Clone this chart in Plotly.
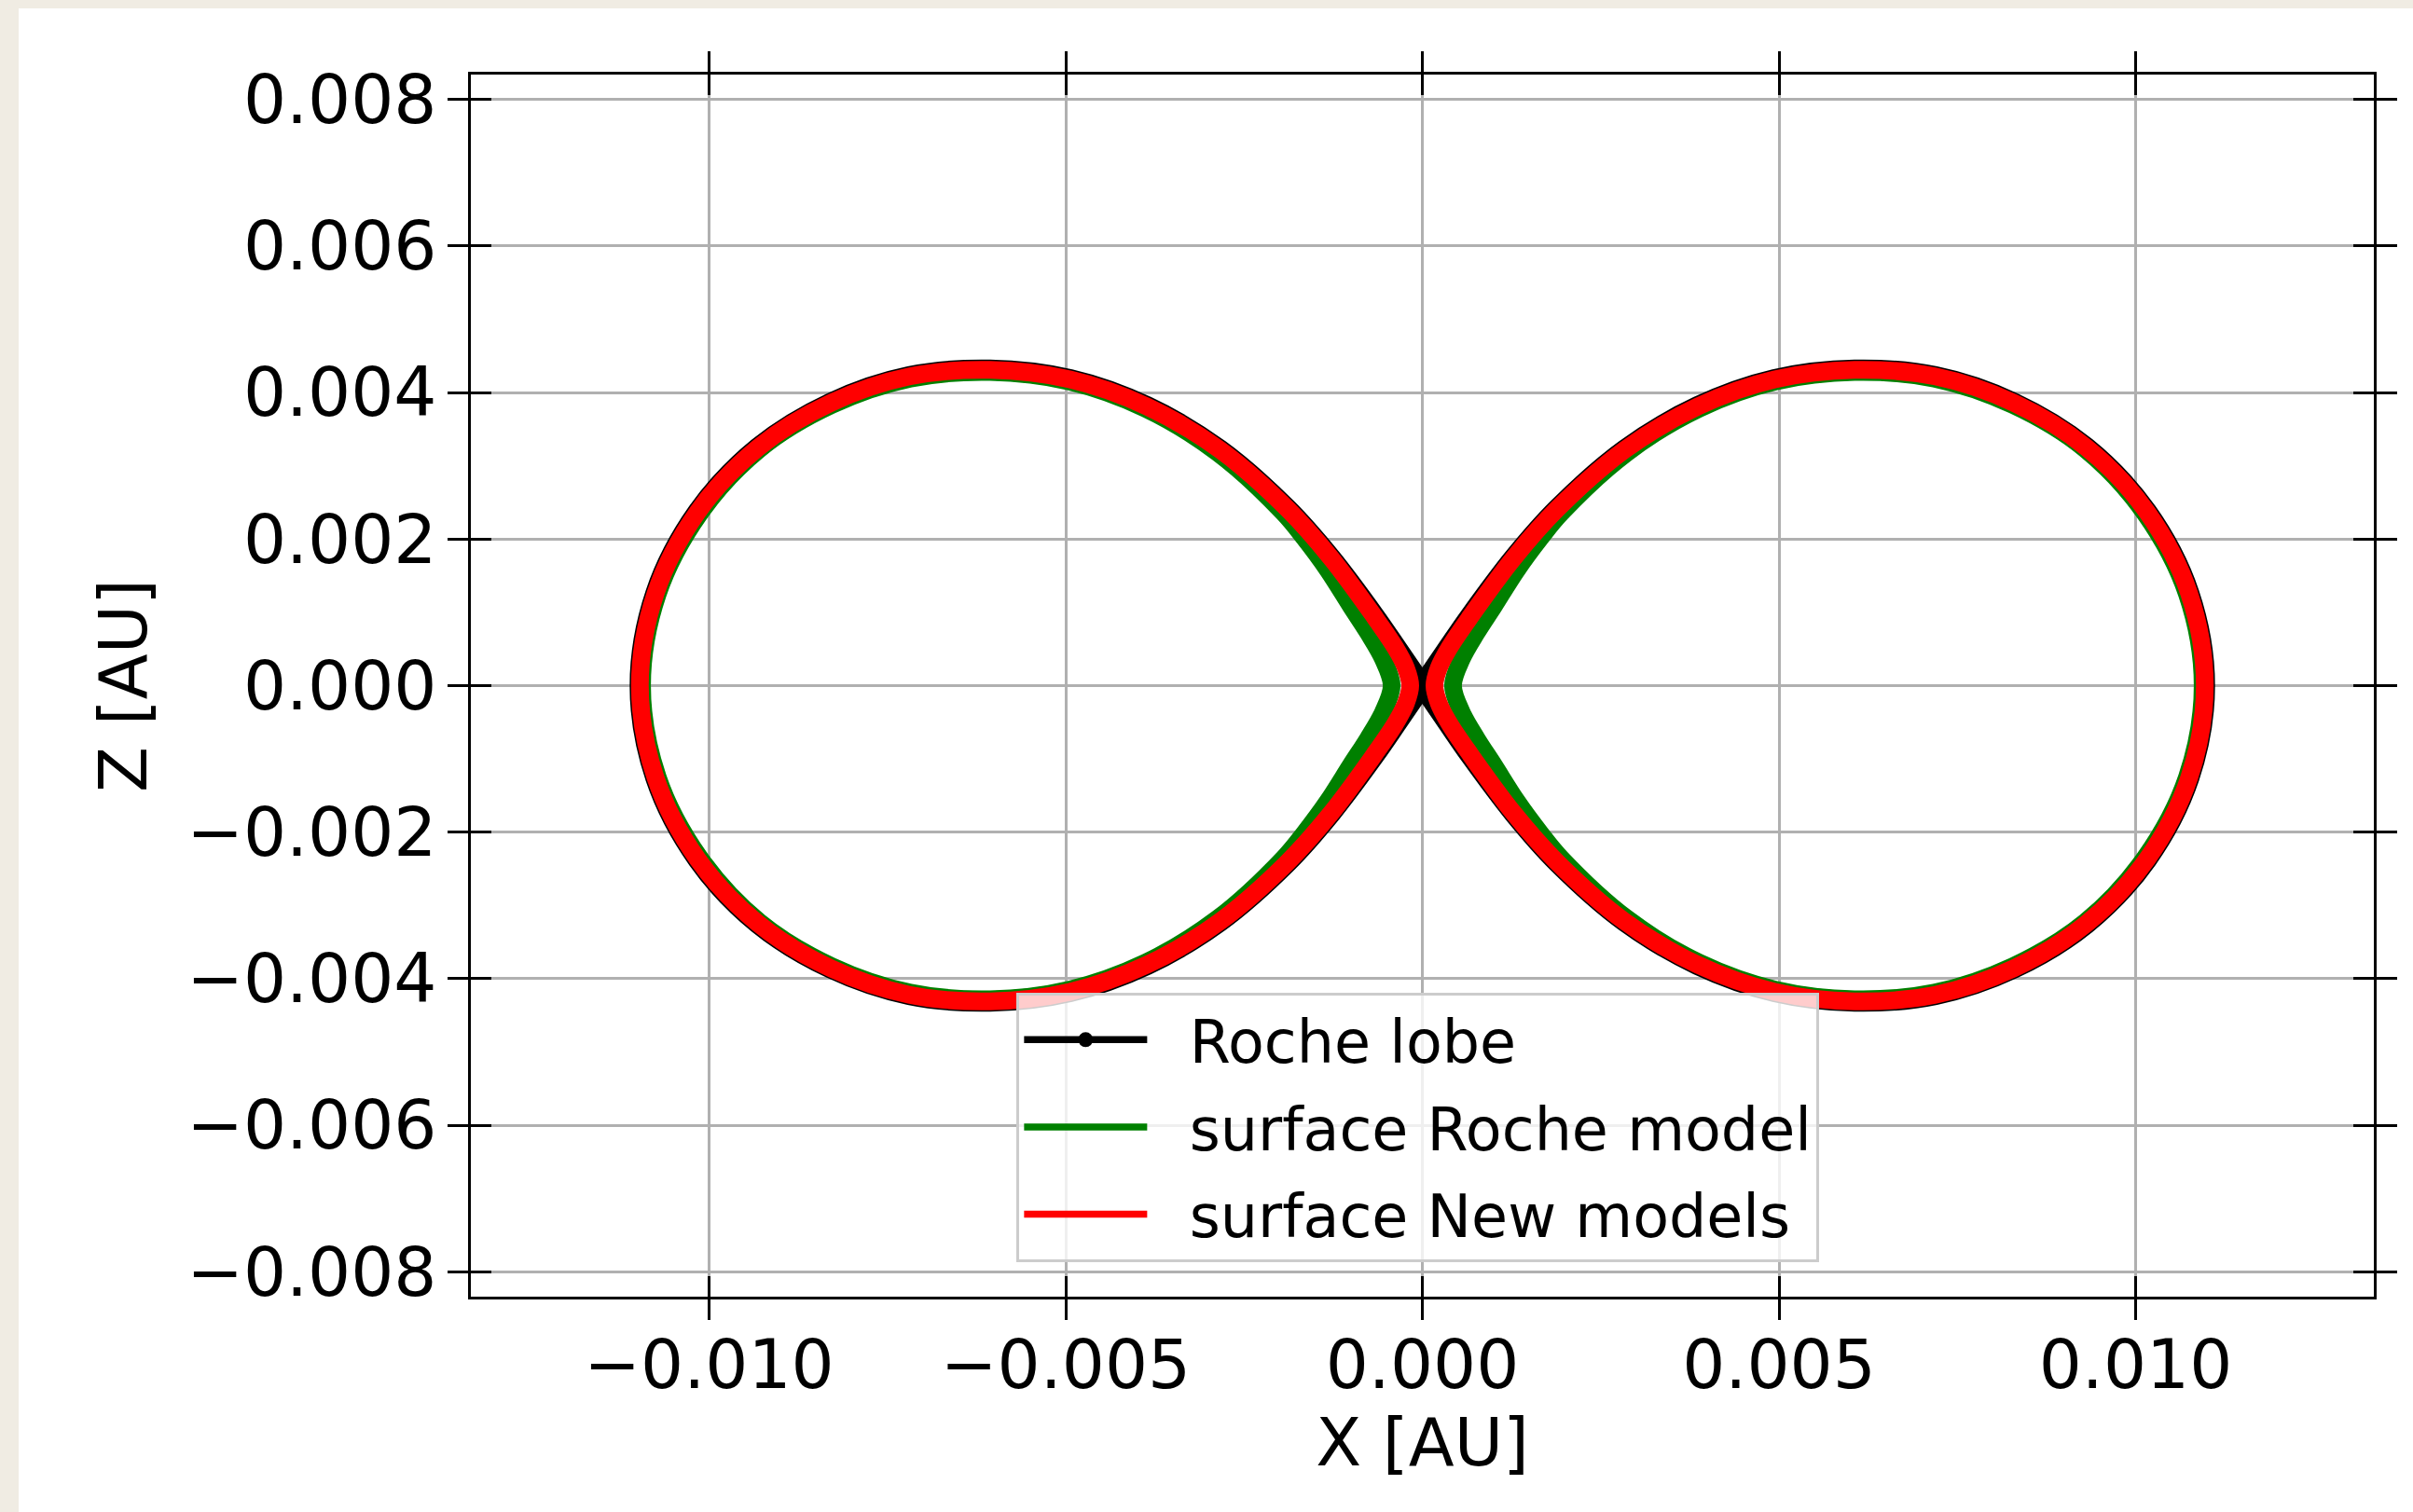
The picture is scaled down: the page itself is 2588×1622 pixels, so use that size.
import plotly.graph_objects as go

# ---------------- data ----------------
x_tickvals = [-0.010, -0.005, 0.0, 0.005, 0.010]
x_ticktext = ["\u22120.010", "\u22120.005", "0.000", "0.005", "0.010"]
y_tickvals = [-0.008, -0.006, -0.004, -0.002, 0.0, 0.002, 0.004, 0.006, 0.008]
y_ticktext = ["\u22120.008", "\u22120.006", "\u22120.004", "\u22120.002", "0.000",
              "0.002", "0.004", "0.006", "0.008"]

series_names = ["Roche lobe", "surface Roche model", "surface New models"]

# Roche lobe: one figure-eight path crossing at L1 (origin)
roche_x = [0.0, -0.00035, -0.00067, -0.00128, -0.00189, -0.00284, -0.00386, -0.00494, -0.00606, -0.00719,
           -0.00829, -0.00931, -0.01016, -0.01075, -0.01097,
           -0.01075, -0.01016, -0.00931, -0.00829, -0.00719, -0.00606, -0.00494, -0.00386, -0.00284,
           -0.00189, -0.00128, -0.00067, -0.00035, 0.0,
           0.00035, 0.00067, 0.00128, 0.00189, 0.00284, 0.00386, 0.00494, 0.00606, 0.00719,
           0.00829, 0.00931, 0.01016, 0.01075, 0.01097,
           0.01075, 0.01016, 0.00931, 0.00829, 0.00719, 0.00606, 0.00494, 0.00386, 0.00284,
           0.00189, 0.00128, 0.00067, 0.00035, 0.0]
roche_z = [0.0, 0.00050, 0.00095, 0.00174, 0.00241, 0.00322, 0.00381, 0.00418, 0.00431, 0.00422,
           0.00386, 0.00325, 0.00237, 0.00126, 0.0,
           -0.00126, -0.00237, -0.00325, -0.00386, -0.00422, -0.00431, -0.00418, -0.00381, -0.00322,
           -0.00241, -0.00174, -0.00095, -0.00050, 0.0,
           0.00050, 0.00095, 0.00174, 0.00241, 0.00322, 0.00381, 0.00418, 0.00431, 0.00422,
           0.00386, 0.00325, 0.00237, 0.00126, 0.0,
           -0.00126, -0.00237, -0.00325, -0.00386, -0.00422, -0.00431, -0.00418, -0.00381, -0.00322,
           -0.00241, -0.00174, -0.00095, -0.00050, 0.0]

# surface, Roche model (green): one closed loop per star
green_left_x = [-0.01094, -0.01072, -0.01013, -0.00929, -0.00828, -0.00718, -0.00606, -0.00495, -0.00388,
                -0.00287, -0.00195, -0.00166, -0.00132, -0.00100, -0.00076, -0.00055, -0.00043,
                -0.00055, -0.00076, -0.00100, -0.00132, -0.00166, -0.00195, -0.00287, -0.00388,
                -0.00495, -0.00606, -0.00718, -0.00828, -0.00929, -0.01013, -0.01072, -0.01094]
green_right_x = [0.01094, 0.01072, 0.01013, 0.00929, 0.00828, 0.00718, 0.00606, 0.00495, 0.00388,
                 0.00287, 0.00195, 0.00166, 0.00132, 0.00100, 0.00076, 0.00055, 0.00043,
                 0.00055, 0.00076, 0.00100, 0.00132, 0.00166, 0.00195, 0.00287, 0.00388,
                 0.00495, 0.00606, 0.00718, 0.00828, 0.00929, 0.01013, 0.01072, 0.01094]
green_z = [0.0, 0.00125, 0.00235, 0.00323, 0.00383, 0.00419, 0.00428, 0.00415, 0.00378,
           0.00318, 0.00236, 0.00202, 0.00157, 0.00108, 0.00072, 0.00036, 0.0,
           -0.00036, -0.00072, -0.00108, -0.00157, -0.00202, -0.00236, -0.00318, -0.00378,
           -0.00415, -0.00428, -0.00419, -0.00383, -0.00323, -0.00235, -0.00125, 0.0]

# surface, New models (red): one closed loop per star
red_left_x = [-0.01097, -0.01075, -0.01016, -0.00931, -0.00829, -0.00719, -0.00606, -0.00494,
              -0.00386, -0.00284, -0.00189, -0.00128, -0.00068, -0.00038, -0.00023, -0.00017,
              -0.00023, -0.00038, -0.00068, -0.00128, -0.00189, -0.00284, -0.00386, -0.00494,
              -0.00606, -0.00719, -0.00829, -0.00931, -0.01016, -0.01075, -0.01097]
red_right_x = [0.01097, 0.01075, 0.01016, 0.00931, 0.00829, 0.00719, 0.00606, 0.00494,
               0.00386, 0.00284, 0.00189, 0.00128, 0.00068, 0.00038, 0.00023, 0.00017,
               0.00023, 0.00038, 0.00068, 0.00128, 0.00189, 0.00284, 0.00386, 0.00494,
               0.00606, 0.00719, 0.00829, 0.00931, 0.01016, 0.01075, 0.01097]
red_z = [0.0, 0.00126, 0.00237, 0.00325, 0.00386, 0.00422, 0.00431, 0.00418,
         0.00381, 0.00322, 0.00241, 0.00174, 0.00095, 0.00052, 0.00024, 0.0,
         -0.00024, -0.00052, -0.00095, -0.00174, -0.00241, -0.00322, -0.00381, -0.00418,
         -0.00431, -0.00422, -0.00386, -0.00325, -0.00237, -0.00126, 0.0]

# ---------------- figure ----------------
X_RANGE = [-0.01334, 0.01334]
Y_RANGE = [-0.00834, 0.00834]
FONT = "DejaVu Sans"

fig = go.Figure()

fig.add_trace(go.Scatter(x=roche_x, y=roche_z, mode="lines",
                         line=dict(color="black", width=22, shape="spline"),
                         showlegend=False, hoverinfo="skip"))
fig.add_trace(go.Scatter(x=green_left_x + [None] + green_right_x, y=green_z + [None] + green_z,
                         mode="lines", connectgaps=False,
                         line=dict(color="#008000", width=19, shape="spline"),
                         showlegend=False, hoverinfo="skip"))
fig.add_trace(go.Scatter(x=red_left_x + [None] + red_right_x, y=red_z + [None] + red_z,
                         mode="lines", connectgaps=False,
                         line=dict(color="#ff0000", width=19, shape="spline"),
                         showlegend=False, hoverinfo="skip"))

# legend entries
legend_styles = [("black", 16), ("#008000", 5), ("#ff0000", 5)]
for i, (name, (col, msize)) in enumerate(zip(series_names, legend_styles)):
    fig.add_trace(go.Scatter(x=[None], y=[None], mode="lines+markers",
                             name="\u00a0\u00a0" + name,
                             legendgroup=f"g{i}",
                             line=dict(color=col, width=7.5),
                             marker=dict(color=col, size=msize, symbol="circle")))

# dummy trace for the overlay axes that carry the inward ticks
fig.add_trace(go.Scatter(x=[None], y=[None], xaxis="x2", yaxis="y2",
                         showlegend=False, hoverinfo="skip"))

axis_common = dict(showline=True, linecolor="black", linewidth=3,
                   ticks="outside", ticklen=22, tickwidth=3, tickcolor="black",
                   mirror="ticks", zeroline=False,
                   showgrid=True, gridcolor="#b0b0b0", gridwidth=3,
                   tickfont=dict(family=FONT, size=72.5, color="black"))

fig.update_layout(
    width=2588, height=1622,
    margin=dict(l=505, r=42, t=80, b=231, pad=0),
    paper_bgcolor="#f0ece3",
    plot_bgcolor="white",
    font=dict(family=FONT, size=71, color="black"),
    xaxis=dict(range=X_RANGE, tickvals=x_tickvals, ticktext=x_ticktext,
               ticklabelstandoff=-14,
               title=dict(text="X [AU]", font=dict(family=FONT, size=71.5), standoff=2),
               **axis_common),
    yaxis=dict(range=Y_RANGE, tickvals=y_tickvals, ticktext=y_ticktext,
               ticklabelstandoff=-3,
               title=dict(text="Z [AU]", font=dict(family=FONT, size=71.5), standoff=20),
               **axis_common),
    xaxis2=dict(overlaying="x", anchor="y2", side="bottom", range=X_RANGE, tickvals=x_tickvals,
                showticklabels=False, ticks="inside", ticklen=22, tickwidth=3, tickcolor="black",
                mirror="ticks", showline=True, linecolor="black", linewidth=3,
                showgrid=False, zeroline=False),
    yaxis2=dict(overlaying="y", anchor="x2", side="left", range=Y_RANGE, tickvals=y_tickvals,
                showticklabels=False, ticks="inside", ticklen=22, tickwidth=3, tickcolor="black",
                mirror="ticks", showline=True, linecolor="black", linewidth=3,
                showgrid=False, zeroline=False),
    legend=dict(x=0.2868, y=0.249, xanchor="left", yanchor="top",
                bgcolor="rgba(255,255,255,0.8)", bordercolor="#cccccc", borderwidth=3,
                font=dict(family=FONT, size=63.5, color="black"),
                traceorder="grouped", tracegroupgap=8, itemwidth=132),
    shapes=[dict(type="rect", xref="paper", yref="paper", layer="below",
                 x0=(20 - 505) / 2041, x1=1.1, y0=-0.3, y1=(1391 - 9) / 1311,
                 fillcolor="white", line=dict(width=0))],
    showlegend=True,
)

fig.write_html("out.html",
               config={"displayModeBar": False},
               post_script="document.body.style.margin='0';document.body.style.overflow='hidden';")
